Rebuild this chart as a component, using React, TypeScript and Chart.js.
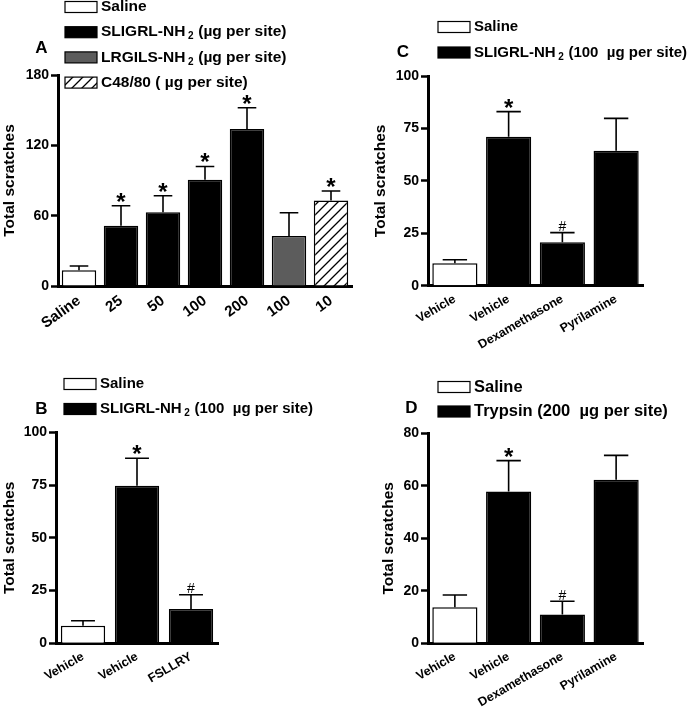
import React, { useEffect, useRef } from 'react';
import { Chart, registerables } from 'chart.js';
Chart.register(...registerables);

const W = 691;
const H = 715;
const FONT = "'Liberation Sans', Arial, Helvetica, sans-serif";

// ---------- Panel A ----------
const catsA = ['Saline', '25', '50', '100', '200', '100', '10'];
const valsA = [13.5, 51.4, 63, 90.7, 134, 42.7, 73];
const errA = [3.5, 17, 14, 11.3, 18, 19.8, 8];
const marksA = ['', '*', '*', '*', '*', '', '*'];
const fillsA = ['saline', 'black', 'black', 'black', 'black', 'gray', 'hatch'];

// ---------- Panel B ----------
const catsB = ['Vehicle', 'Vehicle', 'FSLLRY'];
const valsB = [8.3, 74.7, 16.3];
const errB = [2.4, 13, 6.7];
const marksB = ['', '*', '#'];
const fillsB = ['saline', 'black', 'black'];

// ---------- Panel C ----------
const catsC = ['Vehicle', 'Vehicle', 'Dexamethasone', 'Pyrilamine'];
const valsC = [10.7, 71, 20.7, 64.4];
const errC = [1.7, 12, 4.6, 15.4];
const marksC = ['', '*', '#', ''];
const fillsC = ['saline', 'black', 'black', 'black'];

// ---------- Panel D ----------
const catsD = ['Vehicle', 'Vehicle', 'Dexamethasone', 'Pyrilamine'];
const valsD = [13.7, 57.8, 11, 62.3];
const errD = [4.7, 11.8, 5, 9.3];
const marksD = ['', '*', '#', ''];
const fillsD = ['saline', 'black', 'black', 'black'];

// ---------- Legends ----------
const legendA = [
  { fill: 'saline', main: 'Saline', sub: '', rest: '' },
  { fill: 'black', main: 'SLIGRL-NH', sub: '2', rest: ' (\u00b5g per site)' },
  { fill: 'gray', main: 'LRGILS-NH', sub: '2', rest: ' (\u00b5g per site)' },
  { fill: 'hatch', main: 'C48/80 ( \u00b5g per site)', sub: '', rest: '' },
];
const legendB = [
  { fill: 'saline', main: 'Saline', sub: '', rest: '' },
  { fill: 'black', main: 'SLIGRL-NH', sub: '2', rest: ' (100  \u00b5g per site)' },
];
const legendC = legendB;
const legendD = [
  { fill: 'saline', main: 'Saline', sub: '', rest: '' },
  { fill: 'black', main: 'Trypsin (200  \u00b5g per site)', sub: '', rest: '' },
];

let hatchPattern: CanvasPattern | null = null;
function getHatch(ctx: CanvasRenderingContext2D): CanvasPattern | string {
  if (hatchPattern) return hatchPattern;
  const c = document.createElement('canvas');
  const s = 10;
  c.width = s;
  c.height = s;
  const g = c.getContext('2d')!;
  g.fillStyle = '#fff';
  g.fillRect(0, 0, s, s);
  g.strokeStyle = '#000';
  g.lineWidth = 1.3;
  g.beginPath();
  g.moveTo(-2, s + 2);
  g.lineTo(s + 2, -2);
  g.moveTo(-2, 2);
  g.lineTo(2, -2);
  g.moveTo(s - 2, s + 2);
  g.lineTo(s + 2, s - 2);
  g.stroke();
  hatchPattern = ctx.createPattern(c, 'repeat');
  return hatchPattern || '#fff';
}

function resolveFill(key: string, ctx: CanvasRenderingContext2D): any {
  if (key === 'saline') return '#ffffff';
  if (key === 'black') return '#000000';
  if (key === 'gray') return '#5c5c5c';
  return getHatch(ctx);
}

const decorPlugin = {
  id: 'panelDecor',
  afterDatasetsDraw(chart: any, _args: any, opts: any) {
    const ctx: CanvasRenderingContext2D = chart.ctx;
    const meta = chart.getDatasetMeta(0);
    const yScale = chart.scales.y;
    const vals: number[] = chart.data.datasets[0].data;
    const errs: number[] = opts.errs || [];
    const marks: string[] = opts.marks || [];
    ctx.save();
    meta.data.forEach((bar: any, i: number) => {
      const v = vals[i];
      const e = errs[i] || 0;
      const yv = yScale.getPixelForValue(v);
      const ye = yScale.getPixelForValue(v + e);
      const half = bar.width * 0.27;
      ctx.strokeStyle = '#000';
      ctx.lineWidth = 1.6;
      ctx.beginPath();
      ctx.moveTo(bar.x, yv);
      ctx.lineTo(bar.x, ye);
      ctx.moveTo(bar.x - half, ye);
      ctx.lineTo(bar.x + half, ye);
      ctx.stroke();
      const m = marks[i];
      if (m) {
        ctx.fillStyle = '#000';
        ctx.textAlign = 'center';
        ctx.textBaseline = 'alphabetic';
        if (m === '*') {
          ctx.font = `bold 24px ${FONT}`;
          ctx.fillText('*', bar.x, ye + 4);
        } else {
          ctx.font = `normal 14px ${FONT}`;
          ctx.fillText('#', bar.x, ye - 1.5);
        }
      }
    });
    ctx.restore();
  },
  afterDraw(chart: any, _args: any, opts: any) {
    const ctx: CanvasRenderingContext2D = chart.ctx;
    const lg = opts.legend;
    if (!lg) return;
    ctx.save();
    const big = `bold ${lg.font}px ${FONT}`;
    lg.items.forEach((it: any, i: number) => {
      const cy = lg.y0 + i * lg.step;
      ctx.fillStyle = resolveFill(it.fill, ctx);
      ctx.fillRect(lg.x, cy - 5.5, 32, 11);
      ctx.strokeStyle = '#000';
      ctx.lineWidth = 1.2;
      ctx.strokeRect(lg.x, cy - 5.5, 32, 11);
      ctx.fillStyle = '#000';
      ctx.textAlign = 'left';
      ctx.textBaseline = 'middle';
      ctx.font = big;
      let tx = lg.x + 36;
      ctx.fillText(it.main, tx, cy);
      tx += ctx.measureText(it.main).width;
      if (it.sub) {
        tx += 2.5;
        ctx.font = `bold 10px ${FONT}`;
        ctx.fillText(it.sub, tx, cy + 4.5);
        tx += ctx.measureText(it.sub).width + 0.5;
        ctx.font = big;
      }
      if (it.rest) ctx.fillText(it.rest, tx, cy);
    });
    const L = opts.letter;
    if (L) {
      ctx.font = `bold 17px ${FONT}`;
      ctx.textAlign = 'center';
      ctx.textBaseline = 'middle';
      ctx.fillText(L.text, L.x, L.y);
    }
    ctx.restore();
  },
};

type Spec = {
  cats: string[];
  vals: number[];
  errs: number[];
  marks: string[];
  fills: string[];
  yMax: number;
  yStep: number;
  left: number;
  top: number;
  right: number;
  bottom: number;
  padLeft: number;
  xRot: number;
  xFont: number;
  barPct: number;
  legend: { x: number; y0: number; step: number; font: number; items: any[] };
  letter: { text: string; x: number; y: number };
};

function Panel({ spec }: { spec: Spec }) {
  const ref = useRef<HTMLCanvasElement>(null);
  useEffect(() => {
    const canvas = ref.current!;
    const ctx = canvas.getContext('2d')!;
    const xHeight = H - spec.bottom;
    const chart = new Chart(canvas, {
      type: 'bar',
      data: {
        labels: spec.cats,
        datasets: [
          {
            data: spec.vals,
            backgroundColor: spec.fills.map((f) => resolveFill(f, ctx)),
            borderColor: '#000',
            borderWidth: 1.5,
            categoryPercentage: 1,
            barPercentage: spec.barPct,
          },
        ],
      },
      plugins: [decorPlugin],
      options: {
        responsive: false,
        animation: false,
        devicePixelRatio: 1,
        events: [],
        layout: {
          padding: {
            left: spec.padLeft,
            top: spec.top,
            right: W - spec.right,
            bottom: 0,
          },
        },
        plugins: {
          legend: { display: false },
          tooltip: { enabled: false },
          panelDecor: {
            errs: spec.errs,
            marks: spec.marks,
            legend: spec.legend,
            letter: spec.letter,
          },
        } as any,
        scales: {
          x: {
            z: 1,
            offset: true,
            grid: { display: false, drawTicks: false },
            border: { display: true, width: 3, color: '#000' },
            ticks: {
              autoSkip: false,
              maxRotation: spec.xRot,
              minRotation: spec.xRot,
              padding: 6,
              color: '#000',
              font: { family: FONT, weight: 'bold', size: spec.xFont },
            },
            afterFit: (s: any) => {
              s.height = xHeight;
            },
          },
          y: {
            z: 1,
            min: 0,
            max: spec.yMax,
            ticks: {
              stepSize: spec.yStep,
              padding: 2,
              color: '#000',
              font: { family: FONT, weight: 'bold', size: 14 },
            },
            grid: {
              display: true,
              drawOnChartArea: false,
              drawTicks: true,
              tickLength: 7,
              tickWidth: 2.5,
              tickColor: '#000',
            },
            border: { display: true, width: 3, color: '#000' },
            title: {
              display: true,
              text: 'Total scratches',
              color: '#000',
              font: { family: FONT, weight: 'bold', size: 15.5 },
              padding: { top: 0, bottom: 0 },
            },
            afterFit: (s: any) => {
              s.width = spec.left - spec.padLeft;
            },
          },
        } as any,
      },
    });
    return () => chart.destroy();
  }, [spec]);
  return (
    <canvas
      ref={ref}
      width={W}
      height={H}
      style={{ position: 'absolute', left: 0, top: 0, width: W, height: H }}
    />
  );
}

const specA: Spec = {
  cats: catsA, vals: valsA, errs: errA, marks: marksA, fills: fillsA,
  yMax: 180, yStep: 60,
  left: 58, top: 75, right: 352, bottom: 286, padLeft: 0,
  xRot: 36, xFont: 15, barPct: 0.82,
  legend: { x: 65, y0: 7, step: 25.2, font: 15.5, items: legendA },
  letter: { text: 'A', x: 41.5, y: 48 },
};
const specC: Spec = {
  cats: catsC, vals: valsC, errs: errC, marks: marksC, fills: fillsC,
  yMax: 100, yStep: 25,
  left: 428, top: 76, right: 643, bottom: 285.7, padLeft: 371,
  xRot: 30, xFont: 12.5, barPct: 0.84,
  legend: { x: 438, y0: 27, step: 25.5, font: 15, items: legendC },
  letter: { text: 'C', x: 403, y: 52 },
};
const specB: Spec = {
  cats: catsB, vals: valsB, errs: errB, marks: marksB, fills: fillsB,
  yMax: 100, yStep: 25,
  left: 56, top: 432.3, right: 218, bottom: 643.3, padLeft: 0,
  xRot: 30, xFont: 12.5, barPct: 0.82,
  legend: { x: 64, y0: 384, step: 25, font: 15, items: legendB },
  letter: { text: 'B', x: 41.5, y: 409 },
};
const specD: Spec = {
  cats: catsD, vals: valsD, errs: errD, marks: marksD, fills: fillsD,
  yMax: 80, yStep: 20,
  left: 428, top: 433.3, right: 643, bottom: 643.3, padLeft: 379,
  xRot: 30, xFont: 12.5, barPct: 0.84,
  legend: { x: 438, y0: 387, step: 24.5, font: 16.5, items: legendD },
  letter: { text: 'D', x: 411.5, y: 408 },
};

export default function App() {
  useEffect(() => {
    document.body.style.margin = '0';
    document.body.style.background = '#fff';
  }, []);
  return (
    <div style={{ position: 'relative', width: W, height: H, background: '#fff' }}>
      <Panel spec={specA} />
      <Panel spec={specC} />
      <Panel spec={specB} />
      <Panel spec={specD} />
    </div>
  );
}
